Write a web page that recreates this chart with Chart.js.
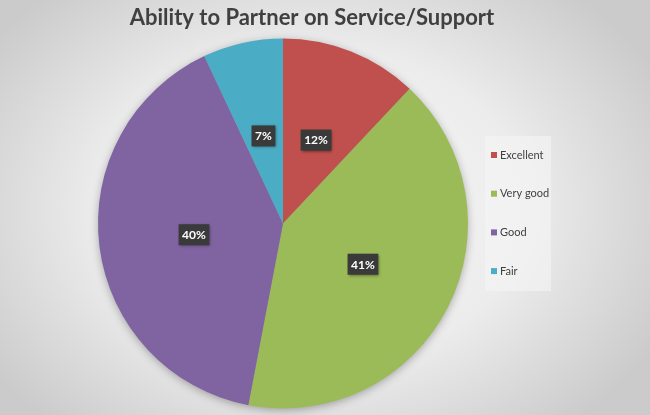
<!DOCTYPE html>
<html>
<head>
<meta charset="utf-8">
<script src="https://cdn.jsdelivr.net/npm/chart.js@4"></script>
<style>
    html, body { margin: 0; padding: 0; }
    body {
        width: 650px; height: 415px; overflow: hidden;
        background: radial-gradient(ellipse 60% 70% at 48% 50%, #fafafa 0%, #ececec 55%, #cbcbcb 100%);
    }
    #wrap { position: relative; width: 650px; height: 415px; }
</style>
</head>
<body>
<div id="wrap"><canvas id="chart"></canvas></div>
<script>
const categories = ['Excellent', 'Very good', 'Good', 'Fair'];
const shares = [12, 41, 40, 7];
const sliceColors = ['#C0504D', '#9BBB59', '#8064A2', '#4BACC6'];
const chartTitle = 'Ability to Partner on Service/Support';

// Titel oben, etwas rechts von der Kreismitte
const topTitle = {
    id: 'topTitle',
    afterDraw(chart) {
        const ctx = chart.ctx;
        ctx.save();
        ctx.font = 'bold 22px Lato, "Liberation Sans", sans-serif';
        ctx.fillStyle = '#404040';
        ctx.textAlign = 'center';
        ctx.textBaseline = 'middle';
        ctx.fillText(chartTitle, 312, 18);
        ctx.restore();
    }
};

// Schatten unter dem Kreis
const pieShadow = {
    id: 'pieShadow',
    beforeDatasetsDraw(chart) {
        const arc = chart.getDatasetMeta(0).data[0];
        if (!arc) return;
        const ctx = chart.ctx;
        ctx.save();
        ctx.shadowColor = 'rgba(0,0,0,0.35)';
        ctx.shadowBlur = 10;
        ctx.shadowOffsetY = 2;
        ctx.fillStyle = '#999';
        ctx.beginPath();
        ctx.arc(arc.x, arc.y, arc.outerRadius - 1, 0, Math.PI * 2);
        ctx.fill();
        ctx.restore();
    }
};

// Prozent-Labels in dunklen Kästchen
const sliceLabels = {
    id: 'sliceLabels',
    afterDatasetsDraw(chart) {
        const ctx = chart.ctx;
        const meta = chart.getDatasetMeta(0);
        ctx.save();
        ctx.font = 'bold 12px Lato, "Liberation Sans", sans-serif';
        ctx.textAlign = 'center';
        ctx.textBaseline = 'middle';
        meta.data.forEach((arc, i) => {
            const mid = (arc.startAngle + arc.endAngle) / 2;
            const r = arc.outerRadius * 0.485;
            const x = arc.x + Math.cos(mid) * r;
            const y = arc.y + Math.sin(mid) * r;
            const text = shares[i] + '%';
            const w = ctx.measureText(text).width + 7;
            const h = 21;
            ctx.shadowColor = 'rgba(0,0,0,0.5)';
            ctx.shadowBlur = 3;
            ctx.shadowOffsetX = 1;
            ctx.shadowOffsetY = 1;
            ctx.fillStyle = '#3a3a3a';
            ctx.fillRect(x - w / 2, y - h / 2, w, h);
            ctx.shadowColor = 'transparent';
            ctx.fillStyle = '#ffffff';
            ctx.fillText(text, x, y + 0.5);
        });
        ctx.restore();
    }
};

// Legende rechts in einem hellen Kasten
const sideLegend = {
    id: 'sideLegend',
    afterDraw(chart) {
        const ctx = chart.ctx;
        ctx.save();
        ctx.fillStyle = 'rgba(245,245,245,0.6)';
        ctx.fillRect(485, 136, 66, 155);
        ctx.font = '11px Lato, "Liberation Sans", sans-serif';
        ctx.textBaseline = 'middle';
        categories.forEach((label, i) => {
            const y = 155 + i * 38.7;
            ctx.fillStyle = sliceColors[i];
            ctx.fillRect(491, y - 3, 6, 6);
            ctx.fillStyle = '#404040';
            ctx.fillText(label, 500, y);
        });
        ctx.restore();
    }
};

new Chart(document.getElementById('chart'), {
    type: 'pie',
    data: {
        labels: categories,
        datasets: [{
            data: shares,
            backgroundColor: sliceColors,
            borderWidth: 0
        }]
    },
    options: {
        responsive: true,
        maintainAspectRatio: false,
        animation: false,
        layout: { padding: { left: 98, right: 182, top: 38, bottom: 6 } },
        plugins: {
            legend: { display: false },
            tooltip: { enabled: false },
            title: { display: false }
        }
    },
    plugins: [pieShadow, sliceLabels, sideLegend, topTitle]
});
</script>
</body>
</html>
